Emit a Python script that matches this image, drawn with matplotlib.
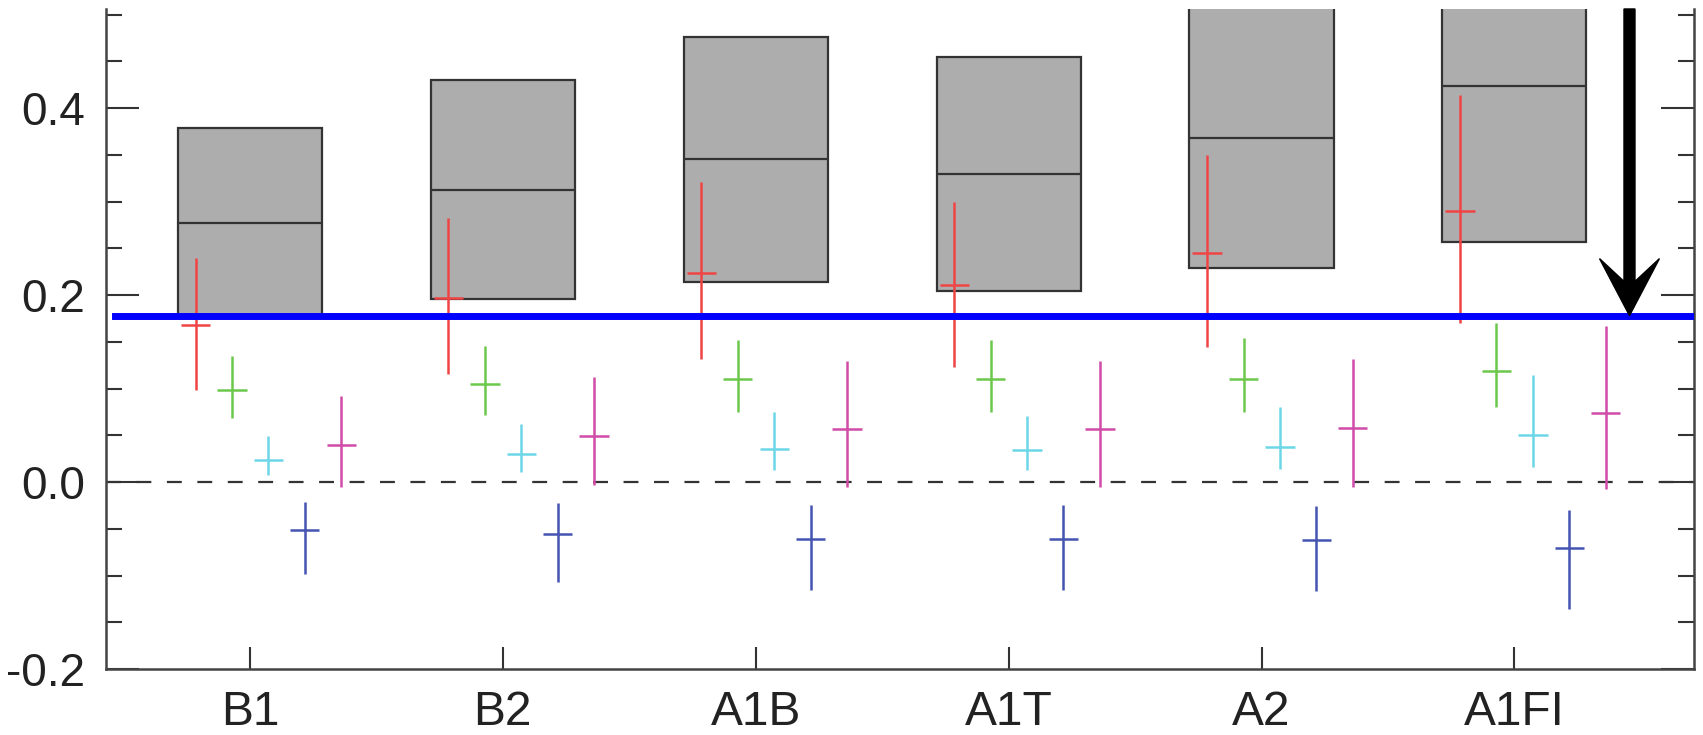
import numpy as np
import matplotlib.pyplot as plt
from matplotlib.ticker import MultipleLocator, FormatStrFormatter

plt.rcParams['font.family'] = ['Liberation Sans', 'DejaVu Sans']

scenarios = ['B1', 'B2', 'A1B', 'A1T', 'A2', 'A1FI']

# grey boxes: low / middle / high
box_low = [0.178, 0.196, 0.214, 0.204, 0.229, 0.257]
box_mid = [0.277, 0.312, 0.346, 0.330, 0.368, 0.424]
box_high = [0.379, 0.430, 0.476, 0.455, 0.508, 0.591]

# crosses: centre, lower and upper end of each vertical bar
red_mid = [0.168, 0.197, 0.224, 0.211, 0.245, 0.290]
red_low = [0.098, 0.116, 0.132, 0.123, 0.144, 0.170]
red_high = [0.240, 0.282, 0.321, 0.300, 0.350, 0.414]

green_mid = [0.098, 0.105, 0.110, 0.110, 0.110, 0.119]
green_low = [0.068, 0.072, 0.075, 0.075, 0.075, 0.080]
green_high = [0.135, 0.145, 0.152, 0.152, 0.154, 0.170]

cyan_mid = [0.024, 0.030, 0.035, 0.034, 0.037, 0.050]
cyan_low = [0.008, 0.011, 0.013, 0.013, 0.014, 0.0165]
cyan_high = [0.049, 0.062, 0.075, 0.071, 0.080, 0.115]

blue_mid = [-0.051, -0.056, -0.061, -0.061, -0.062, -0.071]
blue_low = [-0.098, -0.107, -0.115, -0.116, -0.117, -0.136]
blue_high = [-0.021, -0.022, -0.025, -0.025, -0.026, -0.030]

magenta_mid = [0.040, 0.049, 0.057, 0.057, 0.058, 0.074]
magenta_low = [-0.005, -0.003, -0.005, -0.005, -0.005, -0.007]
magenta_high = [0.092, 0.112, 0.129, 0.129, 0.132, 0.167]

threshold = 0.178

fig = plt.figure(figsize=(17.03, 7.35), dpi=100)
ax = fig.add_axes([0.0621, 0.0898, 0.9326, 0.898])

x = np.arange(1, len(scenarios) + 1)
bw = 0.57

lo = np.array(box_low)
hi = np.array(box_high)
ax.bar(x, hi - lo, bottom=lo, width=bw, color='#adadad',
       edgecolor='#333333', linewidth=1.6, zorder=2)
ax.hlines(box_mid, x - bw / 2, x + bw / 2, color='#333333', lw=1.6, zorder=3)

series = [
    (red_mid, red_low, red_high, '#f04444'),
    (green_mid, green_low, green_high, '#6cc84c'),
    (cyan_mid, cyan_low, cyan_high, '#6cd6e8'),
    (blue_mid, blue_low, blue_high, '#4454b0'),
    (magenta_mid, magenta_low, magenta_high, '#d04ca8'),
]
offsets = [-0.215, -0.071, 0.073, 0.217, 0.361]

for (mid, low, high, c), off in zip(series, offsets):
    mid = np.array(mid)
    yerr = [mid - np.array(low), np.array(high) - mid]
    ax.errorbar(x + off, mid, yerr=yerr, xerr=0.058, fmt='none',
                ecolor=c, elinewidth=1.8, capsize=0, zorder=4)

ax.axhline(0, color='#333333', lw=1.6, ls=(0, (6.7, 7.0)), zorder=1)
ax.axhline(threshold, xmin=0.006, color='#0000ff', lw=5, zorder=5)

ymin, ymax = -0.2, 0.506
ax.set_ylim(ymin, ymax)
ax.set_xlim(0.43, 6.71)

ax.arrow(6.455, ymax, 0, threshold - ymax, width=0.0435, head_width=0.237,
         head_length=0.061, overhang=0.4, length_includes_head=True,
         color='black', zorder=6, clip_on=False)

ax.set_xticks(x, scenarios)
ax.yaxis.set_major_locator(MultipleLocator(0.2))
ax.yaxis.set_minor_locator(MultipleLocator(0.05))
ax.yaxis.set_major_formatter(FormatStrFormatter('%.1f'))

ax.tick_params(axis='x', direction='in', length=15.8, width=1.5,
               pad=15, labelsize=34.5, color='#333333', labelcolor='#222222')
ax.tick_params(axis='y', which='major', direction='in', length=23.8, width=1.5,
               left=True, right=True, pad=15, labelsize=33,
               color='#333333', labelcolor='#222222')
ax.tick_params(axis='y', which='minor', direction='in', length=11.5, width=1.5,
               left=True, right=True, color='#333333')

ax.spines['top'].set_visible(False)
for s in ['left', 'right', 'bottom']:
    ax.spines[s].set_color('#444444')
    ax.spines[s].set_linewidth(1.8)

fig.savefig('out.png', dpi=100)
